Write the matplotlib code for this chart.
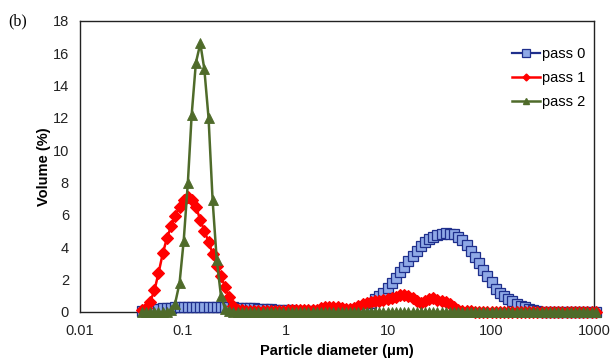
import matplotlib
matplotlib.use("Agg")
import matplotlib.pyplot as plt
from matplotlib.lines import Line2D

# Particle size channels (um)
diameter = [
    0.040, 0.044, 0.048, 0.053, 0.058, 0.064, 0.070, 0.077, 0.084, 0.093,
    0.102, 0.112, 0.122, 0.134, 0.148, 0.162, 0.178, 0.195, 0.214, 0.235,
    0.258, 0.283, 0.311, 0.341, 0.375, 0.412, 0.452, 0.496, 0.545, 0.598,
    0.656, 0.721, 0.791, 0.868, 0.953, 1.047, 1.149, 1.261, 1.385, 1.520,
    1.669, 1.832, 2.011, 2.208, 2.423, 2.660, 2.920, 3.206, 3.519, 3.863,
    4.241, 4.656, 5.111, 5.611, 6.159, 6.761, 7.422, 8.148, 8.944, 9.819,
    10.78, 11.83, 12.99, 14.26, 15.65, 17.18, 18.86, 20.71, 22.73, 24.95,
    27.39, 30.07, 33.01, 36.24, 39.78, 43.67, 47.94, 52.62, 57.77, 63.41,
    69.61, 76.42, 83.89, 92.09, 101.1, 111.0, 121.8, 133.7, 146.8, 161.2,
    176.9, 194.2, 213.2, 234.1, 256.9, 282.1, 309.6, 339.9, 373.1, 409.6,
    449.7, 493.6, 541.9, 594.9, 653.0, 716.8, 786.9, 863.9, 948.3, 1041.0,
]

pass0 = [
    0.05, 0.10, 0.15, 0.18, 0.20, 0.22, 0.24, 0.26, 0.28, 0.30,
    0.30, 0.32, 0.33, 0.33, 0.33, 0.33, 0.32, 0.32, 0.31, 0.30,
    0.30, 0.29, 0.28, 0.27, 0.26, 0.25, 0.24, 0.22, 0.21, 0.20,
    0.18, 0.17, 0.15, 0.14, 0.12, 0.11, 0.10, 0.09, 0.08, 0.07,
    0.06, 0.05, 0.05, 0.04, 0.04, 0.04, 0.04, 0.04, 0.04, 0.05,
    0.06, 0.08, 0.12, 0.20, 0.35, 0.55, 0.80, 1.00, 1.20, 1.50,
    1.80, 2.10, 2.45, 2.80, 3.15, 3.45, 3.75, 4.05, 4.30, 4.50,
    4.65, 4.75, 4.82, 4.86, 4.85, 4.80, 4.65, 4.45, 4.15, 3.80,
    3.40, 3.00, 2.60, 2.20, 1.85, 1.45, 1.20, 1.00, 0.82, 0.66,
    0.52, 0.40, 0.28, 0.18, 0.10, 0.05, 0.02, 0.01, 0.01, 0.01,
    0.01, 0.01, 0.01, 0.01, 0.01, 0.01, 0.01, 0.01, 0.01, 0.01,
]

pass1 = [
    0.10, 0.25, 0.60, 1.35, 2.40, 3.65, 4.55, 5.30, 5.95, 6.50,
    6.90, 7.10, 6.95, 6.50, 5.70, 5.00, 4.35, 3.60, 2.85, 2.20,
    1.55, 0.90, 0.40, 0.15, 0.10, 0.08, 0.08, 0.08, 0.08, 0.08,
    0.08, 0.08, 0.08, 0.08, 0.08, 0.10, 0.10, 0.10, 0.10, 0.10,
    0.10, 0.15, 0.15, 0.22, 0.28, 0.30, 0.30, 0.28, 0.22, 0.18,
    0.18, 0.25, 0.40, 0.50, 0.58, 0.62, 0.65, 0.70, 0.75, 0.80,
    0.88, 0.95, 1.02, 1.05, 1.00, 0.85, 0.65, 0.55, 0.65, 0.80,
    0.85, 0.75, 0.65, 0.60, 0.50, 0.30, 0.10, 0.05, 0.03, 0.03,
    0.02, 0.02, 0.02, 0.02, 0.02, 0.02, 0.02, 0.02, 0.02, 0.02,
    0.02, 0.02, 0.02, 0.02, 0.02, 0.02, 0.02, 0.02, 0.02, 0.02,
    0.02, 0.02, 0.02, 0.02, 0.02, 0.02, 0.02, 0.02, 0.02, 0.02,
]

pass2 = [
    0.00, 0.00, 0.00, 0.00, 0.00, 0.00, 0.00, 0.10, 0.50, 1.80,
    4.40, 8.00, 12.20, 15.40, 16.60, 15.00, 12.00, 6.90, 3.20, 1.00,
    0.20, 0.05, 0.00, 0.00, 0.00, 0.00, 0.00, 0.00, 0.00, 0.00,
    0.00, 0.00, 0.00, 0.00, 0.00, 0.00, 0.00, 0.00, 0.00, 0.00,
    0.00, 0.00, 0.00, 0.00, 0.00, 0.00, 0.00, 0.00, 0.00, 0.00,
    0.00, 0.00, 0.00, 0.00, 0.00, 0.00, 0.00, 0.00, 0.00, 0.00,
    0.00, 0.00, 0.00, 0.00, 0.00, 0.00, 0.00, 0.00, 0.00, 0.00,
    0.00, 0.00, 0.00, 0.00, 0.00, 0.00, 0.00, 0.00, 0.00, 0.00,
    0.00, 0.00, 0.00, 0.00, 0.00, 0.00, 0.00, 0.00, 0.00, 0.00,
    0.00, 0.00, 0.00, 0.00, 0.00, 0.00, 0.00, 0.00, 0.00, 0.00,
    0.00, 0.00, 0.00, 0.00, 0.00, 0.00, 0.00, 0.00, 0.00, 0.00,
]

series_labels = ["pass 0", "pass 1", "pass 2"]
xtick_values = [0.01, 0.1, 1, 10, 100, 1000]
xtick_labels = ["0.01", "0.1", "1", "10", "100", "1000"]
ytick_values = [0, 2, 4, 6, 8, 10, 12, 14, 16, 18]

plt.rcParams['font.family'] = ['Liberation Sans', 'DejaVu Sans']

fig = plt.figure(figsize=(6.11, 3.59), dpi=100)
ax = fig.add_axes([0.131, 0.131, 0.841, 0.811])

blue_edge = '#1F2F8C'
blue_face = '#8FA9E6'
red = '#FF0000'
green = '#4F6B2A'

ax.plot(diameter, pass0, color=blue_edge, lw=1.6, marker='s', ms=7.5,
        mfc=blue_face, mec=blue_edge, mew=0.9, clip_on=False, zorder=3)
ax.plot(diameter, pass1, color=red, lw=1.8, marker='D', ms=6.2,
        mfc=red, mec=red, mew=0.8, clip_on=False, zorder=4)
ax.plot(diameter, pass2, color=green, lw=1.8, marker='^', ms=6.5,
        mfc=green, mec=green, mew=0.6, clip_on=False, zorder=5)

ax.set_xscale('log')
ax.set_xlim(0.01, 1000)
ax.set_ylim(0, 18)
ax.set_xticks(xtick_values)
ax.set_xticklabels(xtick_labels)
ax.minorticks_off()
ax.set_yticks(ytick_values)
ax.tick_params(axis='both', length=0, labelsize=10.5, colors='#222222')
ax.tick_params(axis='x', pad=9)
ax.tick_params(axis='y', pad=8)

for s in ax.spines.values():
    s.set_color('#222222')
    s.set_linewidth(1.0)

ax.set_xlabel("Particle diameter (μm)", fontsize=10.5, fontweight='bold', labelpad=4)
ax.set_ylabel("Volume (%)", fontsize=10.5, fontweight='bold', labelpad=1)

handles = [
    Line2D([], [], color=blue_edge, lw=1.6, marker='s', ms=5.5, mfc=blue_face, mec=blue_edge, mew=0.9),
    Line2D([], [], color=red, lw=1.8, marker='D', ms=3.5, mfc=red, mec=red),
    Line2D([], [], color=green, lw=1.8, marker='^', ms=4.5, mfc=green, mec=green),
]
ax.legend(handles, series_labels, loc='upper right', bbox_to_anchor=(1.0, 0.94),
          frameon=False, fontsize=10.5, handlelength=1.9, handletextpad=0.15,
          labelspacing=0.68, borderaxespad=0.2)

fig.text(0.014, 0.93, "(b)", fontsize=11.5, family=['Liberation Serif', 'DejaVu Serif'])

fig.savefig("out.png", dpi=100)
